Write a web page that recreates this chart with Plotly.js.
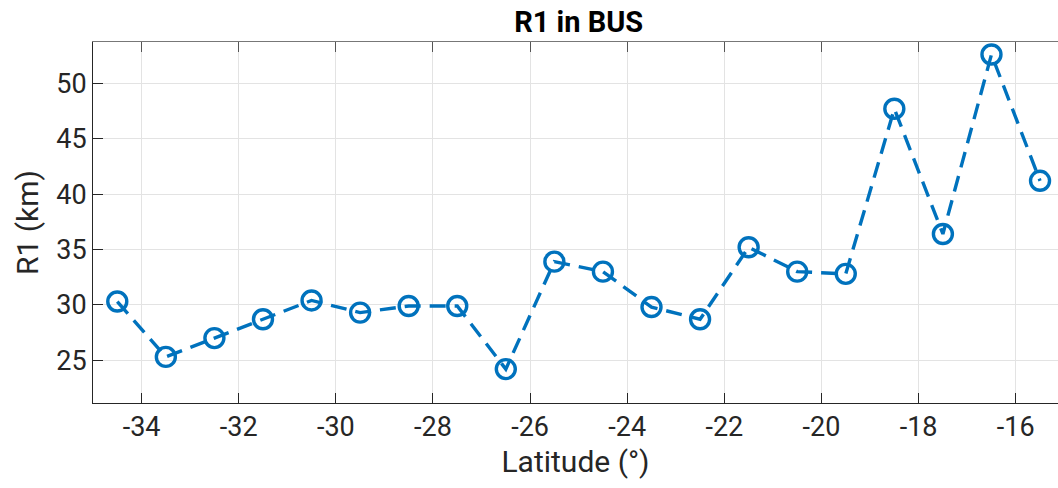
<!DOCTYPE html>
<html>
<head>
<meta charset="utf-8">
<script src="https://cdn.plot.ly/plotly-3.0.1.min.js"></script>
<style>html,body{margin:0;padding:0;background:#fff;overflow:hidden}</style>
</head>
<body>
<div id="chart" style="width:1058px;height:488px"></div>
<script>
const latitude = [-34.5,-33.5,-32.5,-31.5,-30.5,-29.5,-28.5,-27.5,-26.5,-25.5,-24.5,-23.5,-22.5,-21.5,-20.5,-19.5,-18.5,-17.5,-16.5,-15.5];
const r1 = [30.3,25.3,27.0,28.7,30.4,29.3,29.9,29.9,24.2,33.9,33.0,29.8,28.7,35.2,33.0,32.8,47.7,36.4,52.6,41.2];
const xTicks = [-34,-32,-30,-28,-26,-24,-22,-20,-18,-16];
const yTicks = [25,30,35,40,45,50];

const font = 'Roboto, "Liberation Sans", sans-serif';
const trace = {
  x: latitude, y: r1, type: 'scatter', mode: 'lines+markers',
  line: {color: '#0072BD', width: 3.4, dash: '16px,9px'},
  marker: {symbol: 'circle-open', size: 19, color: '#0072BD', line: {width: 3.4, color: '#0072BD'}},
  cliponaxis: false, hoverinfo: 'skip'
};
const layout = {
  width: 1058, height: 488,
  margin: {l: 93, r: 0, t: 42, b: 85},
  paper_bgcolor: '#fff', plot_bgcolor: '#fff',
  showlegend: false,
  font: {family: font, color: '#262626'},
  title: {text: '<b>R1 in BUS</b>', font: {size: 29, color: '#000', family: font}, x: 0.547, xanchor: 'center', y: 0.955, yanchor: 'middle'},
  xaxis: {
    range: [-35, -15.13], tickvals: xTicks, ticktext: xTicks.map(String),
    ticks: 'inside', ticklen: 10, tickcolor: '#262626', tickwidth: 1,
    showline: true, linecolor: '#262626', linewidth: 1,
    showgrid: true, gridcolor: '#e3e3e3', gridwidth: 1, zeroline: false,
    tickfont: {size: 27, color: '#262626'},
    title: {text: 'Latitude (°)', font: {size: 30, color: '#262626'}, standoff: 8}
  },
  xaxis2: {
    overlaying: 'x', side: 'top', matches: 'x', range: [-35, -15.13],
    tickvals: xTicks, showticklabels: false,
    ticks: 'inside', ticklen: 10, tickcolor: '#555', tickwidth: 1,
    showline: true, linecolor: '#777', linewidth: 1.5, showgrid: false, zeroline: false
  },
  yaxis: {
    range: [21.14, 53.73], tickvals: yTicks, ticktext: yTicks.map(String),
    ticks: 'inside', ticklen: 10, tickcolor: '#262626', tickwidth: 1,
    showline: true, linecolor: '#262626', linewidth: 1,
    showgrid: true, gridcolor: '#e3e3e3', gridwidth: 1, zeroline: false,
    tickfont: {size: 27, color: '#262626'},
    title: {text: 'R1 (km)', font: {size: 30, color: '#262626'}, standoff: 8}
  }
};
const dummy = {x: [latitude[0]], y: [r1[0]], xaxis: 'x2', mode: 'markers', marker: {opacity: 0}, hoverinfo: 'skip'};
Plotly.newPlot('chart', [trace, dummy], layout, {staticPlot: true});
</script>
</body>
</html>
